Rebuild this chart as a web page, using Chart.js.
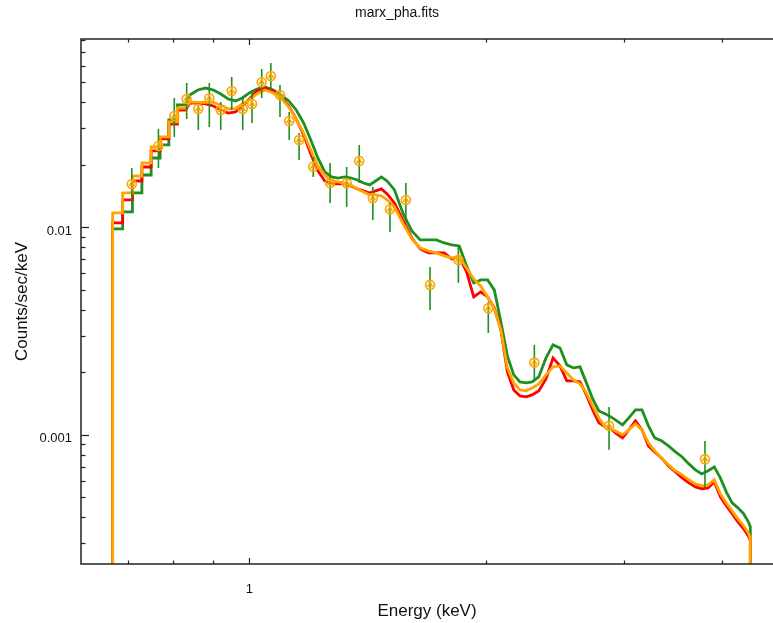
<!DOCTYPE html>
<html><head><meta charset="utf-8">
<script src="https://cdn.jsdelivr.net/npm/chart.js@4.4.1/dist/chart.umd.min.js"></script>
<style>html,body{margin:0;padding:0;background:#fff}#wrap{width:773px;height:623px}</style>
</head><body><div id="wrap"><canvas id="c" width="773" height="623"></canvas></div>
<script>
// ---- model grid (bin left edges, keV) ----
const energies = [0.67,0.69,0.71,0.73,0.75,0.77,0.79,0.81,0.83,0.85,0.87,0.89,0.91,0.93,0.95,0.97,0.99,
1.01,1.035,1.06,1.085,1.11,1.135,1.16,1.185,1.21,1.235,1.26,1.285,1.31,1.335,1.36,1.385,1.41,1.435,1.46,1.485,1.51,
1.55,1.59,1.63,1.67,1.71,1.75,1.79,1.83,1.87,1.91,1.95,1.99,2.03,2.07,2.11,2.15,2.19,2.23,2.27,2.31,
2.36,2.41,2.46,2.51,2.56,2.61,2.66,2.71,2.76,2.81,2.86,2.91,2.96,3.01,
3.07,3.13,3.19,3.25,3.31,
3.38,3.45,3.52,3.59,3.66,3.73,3.80,3.87,3.94,4.01,4.08,4.15,4.22,4.29,
4.34];

const modelOrange = [0.01172,0.01463,0.01766,0.02041,0.02439,0.02724,0.03217,0.03757,0.04017,0.03995,0.03995,0.03995,0.03885,0.03716,0.03736,0.03928,0.04107,
0.04389,0.04588,0.04438,0.04198,0.03800,0.03325,0.02847,0.02358,0.01974,0.01786,0.01671,0.01653,0.01634,0.01599,0.01530,0.01480,0.01431,0.01431,0.01415,0.01354,0.01253,
0.01037,0.008781,0.007947,0.007688,0.007520,0.007274,0.007115,0.007194,0.006366,0.005634,0.005214,0.004614,0.004039,0.003200,0.002099,0.001777,0.001644,0.001626,0.001680,0.001757,
0.001942,0.002122,0.002146,0.001985,0.001837,0.001757,0.001590,0.001377,0.001204,0.001091,0.001067,0.001032,0.000998,0.001055,
0.001128,0.001055,0.000913,0.000836,0.000773,
0.000715,0.000670,0.000640,0.000606,0.000579,0.000567,0.000573,0.000606,0.000519,0.000469,0.000429,0.000393,0.000364,0.000336,
0.000318];

const modelRed = [0.01049,0.01354,0.01671,0.01952,0.02332,0.02664,0.03146,0.03675,0.03971,0.03971,0.03928,0.03843,0.03675,0.03553,0.03594,0.03843,0.04152,
0.04538,0.04689,0.04538,0.04246,0.03843,0.03325,0.02785,0.02256,0.01868,0.01671,0.01617,0.01617,0.01617,0.01581,0.01530,0.01496,0.01463,0.01496,0.01530,0.01447,0.01309,
0.01072,0.008876,0.00786,0.00752,0.00752,0.00752,0.007036,0.007194,0.006090,0.004614,0.004878,0.004614,0.004083,0.003200,0.002008,0.001644,0.001538,0.001521,0.001555,0.001626,
0.001857,0.002345,0.002146,0.001817,0.001817,0.001797,0.001555,0.001317,0.001140,0.001091,0.001067,0.001009,0.000965,0.001055,
0.001165,0.001055,0.000883,0.000826,0.000773,
0.000707,0.000662,0.000619,0.000586,0.000560,0.000548,0.000554,0.000593,0.000502,0.000454,0.000416,0.000380,0.000352,0.000325,
0.000311];

const modelGreen = [0.009812,0.01185,0.01463,0.01786,0.02157,0.02493,0.03289,0.03885,0.04341,0.04588,0.04689,0.04588,0.04389,0.04152,0.04062,0.04198,0.04438,
0.04639,0.04742,0.04588,0.04341,0.04062,0.03675,0.03181,0.02635,0.02157,0.01848,0.01747,0.01727,0.01747,0.01727,0.01690,0.01634,0.01599,0.01671,0.01747,0.01671,0.01513,
0.01159,0.009598,0.008685,0.008685,0.008685,0.008397,0.008216,0.008126,0.006510,0.005388,0.005572,0.005572,0.004988,0.003496,0.002398,0.001942,0.001797,0.001777,0.001797,0.001899,
0.002345,0.002709,0.002619,0.002170,0.002098,0.002122,0.001777,0.001487,0.001302,0.001260,0.001219,0.001165,0.001115,0.001204,
0.001317,0.001317,0.001103,0.000965,0.000934,
0.000883,0.000826,0.000781,0.000723,0.000677,0.000647,0.000670,0.000699,0.000619,0.000530,0.000469,0.000444,0.000416,0.000380,
0.000360];

// ---- observed data points ----
const dataEnergy = [0.7087,0.7662,0.8027,0.8323,0.8612,0.8894,0.9196,0.9497,0.9809,1.008,1.037,1.065,1.094,1.124,1.157,1.206,1.267,1.330,1.380,1.436,1.510,1.582,1.698,1.845,2.014,2.305,2.869,3.800];
const dataRate = [0.01617,0.02465,0.03439,0.04153,0.03716,0.04185,0.03675,0.04538,0.03716,0.03929,0.04999,0.05360,0.04341,0.03253,0.02635,0.01959,0.01635,0.01629,0.02087,0.01380,0.01221,0.01354,0.005273,0.006959,0.004071,0.002226,0.001103,0.000762];
const dataErrLow = [0.01309,0.01931,0.02724,0.03326,0.02944,0.03043,0.02944,0.03675,0.02944,0.03182,0.04199,0.04588,0.03401,0.02635,0.02110,0.01747,0.01309,0.01253,0.01635,0.01084,0.00949,0.01049,0.003995,0.005392,0.003094,0.001836,0.000845,0.000560];
const dataErrHigh = [0.01931,0.02977,0.04199,0.04960,0.03972,0.04960,0.04017,0.05302,0.04246,0.04588,0.05792,0.06190,0.04852,0.03594,0.02847,0.02182,0.02041,0.01952,0.02493,0.01564,0.01309,0.01635,0.006437,0.008037,0.004365,0.002709,0.001361,0.000933];

// ---- axes ----
const X_MIN = 0.6107, X_MAX = 4.638, Y_MIN = 0.000238, Y_MAX = 0.0808;
const xMajorTicks = [1];
const xMinorTicks = [0.7, 0.8, 0.9, 2, 3, 4];
const xTickLabels = {1: '1'};
const yMajorTicks = [0.001, 0.01];
const yMinorTicks = [0.0003,0.0004,0.0005,0.0006,0.0007,0.0008,0.0009,0.002,0.003,0.004,0.005,0.006,0.007,0.008,0.009,0.02,0.03,0.04,0.05,0.06,0.07,0.08];
const yTickLabels = {0.001: '0.001', 0.01: '0.01'};

const TITLE = 'marx_pha.fits', XTITLE = 'Energy (keV)', YTITLE = 'Counts/sec/keV';
const FONT = '"Liberation Sans", Arial, sans-serif';
const GREEN = '#1f8f1f', RED = '#ff0000', ORANGE = '#ffa500', AXIS = '#222';
const SPLIT = 8; // bins from here on are fine enough to be drawn as a continuous trace

// coarse low-energy bins: histogram steps
function lowData(vals) {
  const pts = [{x: energies[0], y: Y_MIN}];
  for (let i = 0; i < SPLIT; i++) pts.push({x: energies[i], y: vals[i]});
  pts.push({x: energies[SPLIT], y: vals[SPLIT - 1]});
  return pts;
}
// fine high-energy bins: trace through bin centres
function highData(vals) {
  const n = energies.length;
  const pts = [{x: energies[SPLIT], y: vals[SPLIT - 1]}];
  for (let i = SPLIT; i < n - 1; i++) pts.push({x: Math.sqrt(energies[i] * energies[i + 1]), y: vals[i]});
  pts.push({x: energies[n - 1], y: vals[n - 1]});
  pts.push({x: energies[n - 1], y: Y_MIN});
  return pts;
}
const points = dataEnergy.map((e, i) => ({x: e, y: dataRate[i]}));

const decorPlugin = {
  id: 'decor',
  beforeDatasetDraw(chart, args) {
    if (args.index !== 1) return;
    const {ctx, scales: {x, y}} = chart;
    ctx.save();
    ctx.strokeStyle = GREEN; ctx.lineWidth = 1.6;
    dataEnergy.forEach((e, i) => {
      const px = x.getPixelForValue(e);
      ctx.beginPath();
      ctx.moveTo(px, y.getPixelForValue(dataErrLow[i]));
      ctx.lineTo(px, y.getPixelForValue(dataErrHigh[i]));
      ctx.stroke();
    });
    ctx.restore();
  },
  afterDraw(chart) {
    const {ctx, chartArea: a, scales: {x, y}} = chart;
    ctx.save();
    ctx.strokeStyle = AXIS; ctx.lineWidth = 1.5;
    ctx.beginPath();
    ctx.moveTo(a.right, a.top); ctx.lineTo(a.left, a.top); ctx.lineTo(a.left, a.bottom); ctx.lineTo(a.right, a.bottom);
    ctx.stroke();
    ctx.lineWidth = 1.2;
    const xt = [...xMajorTicks.map(v => [v, 6]), ...xMinorTicks.map(v => [v, 3.5])];
    xt.forEach(([v, len]) => {
      const px = Math.round(x.getPixelForValue(v)) + 0.5;
      ctx.beginPath();
      ctx.moveTo(px, a.bottom); ctx.lineTo(px, a.bottom - len);
      ctx.moveTo(px, a.top); ctx.lineTo(px, a.top + len);
      ctx.stroke();
    });
    const yt = [...yMajorTicks.map(v => [v, 8]), ...yMinorTicks.map(v => [v, 4.5])];
    yt.forEach(([v, len]) => {
      const py = Math.round(y.getPixelForValue(v)) + 0.5;
      ctx.beginPath();
      ctx.moveTo(a.left, py); ctx.lineTo(a.left + len, py);
      ctx.stroke();
    });
    ctx.fillStyle = '#111';
    ctx.textAlign = 'center'; ctx.textBaseline = 'middle';
    ctx.font = '14px ' + FONT;
    ctx.fillText(TITLE, 397, 13);
    ctx.font = '17px ' + FONT;
    ctx.fillText(XTITLE, (a.left + a.right) / 2, 611);
    ctx.translate(22, (a.top + a.bottom) / 2);
    ctx.rotate(-Math.PI / 2);
    ctx.fillText(YTITLE, 0, 0);
    ctx.restore();
  }
};

const lineStyle = c => ({borderColor: c, borderWidth: 2.8, pointRadius: 0, fill: false, borderJoinStyle: 'miter'});

new Chart(document.getElementById('c'), {
  type: 'line',
  data: {
    datasets: [
      {data: points, showLine: false, pointStyle: 'triangle', pointRadius: 2.8, borderColor: ORANGE, backgroundColor: 'rgba(0,0,0,0)', pointBorderWidth: 1.1},
      {data: points, showLine: false, pointStyle: 'circle', pointRadius: 4.5, borderColor: ORANGE, backgroundColor: 'rgba(255,220,120,0.25)', pointBorderWidth: 1.6},
      {data: highData(modelOrange), ...lineStyle(ORANGE)},
      {data: lowData(modelOrange), stepped: 'before', ...lineStyle(ORANGE)},
      {data: highData(modelRed), ...lineStyle(RED)},
      {data: lowData(modelRed), stepped: 'before', ...lineStyle(RED)},
      {data: highData(modelGreen), ...lineStyle(GREEN)},
      {data: lowData(modelGreen), stepped: 'before', ...lineStyle(GREEN)}
    ]
  },
  options: {
    responsive: false, animation: false, devicePixelRatio: 1,
    layout: {padding: {top: 39, right: 0, bottom: 0, left: 0}, autoPadding: false},
    plugins: {legend: {display: false}, tooltip: {enabled: false}, title: {display: false}},
    scales: {
      x: {
        type: 'logarithmic', min: X_MIN, max: X_MAX, bounds: 'data',
        afterBuildTicks: s => { s.min = X_MIN; s.max = X_MAX; s.ticks = [...xMinorTicks, ...xMajorTicks].sort((a, b) => a - b).map(v => ({value: v})); },
        afterFit: s => { s.height = 59; s.paddingLeft = 0; s.paddingRight = 0; },
        grid: {display: false, drawTicks: false}, border: {display: false},
        ticks: {autoSkip: false, maxRotation: 0, padding: 18, color: '#111', font: {family: FONT, size: 13},
          callback: v => xTickLabels[v] || ''}
      },
      y: {
        type: 'logarithmic', min: Y_MIN, max: Y_MAX, bounds: 'data',
        afterBuildTicks: s => { s.min = Y_MIN; s.max = Y_MAX; s.ticks = [...yMinorTicks, ...yMajorTicks].sort((a, b) => a - b).map(v => ({value: v})); },
        afterFit: s => { s.width = 81; s.paddingTop = 0; s.paddingBottom = 0; },
        grid: {display: false, drawTicks: false}, border: {display: false},
        ticks: {autoSkip: false, padding: 9, labelOffset: 4, color: '#111', font: {family: FONT, size: 13},
          callback: v => yTickLabels[v] || ''}
      }
    }
  },
  plugins: [decorPlugin]
});
</script></body></html>
